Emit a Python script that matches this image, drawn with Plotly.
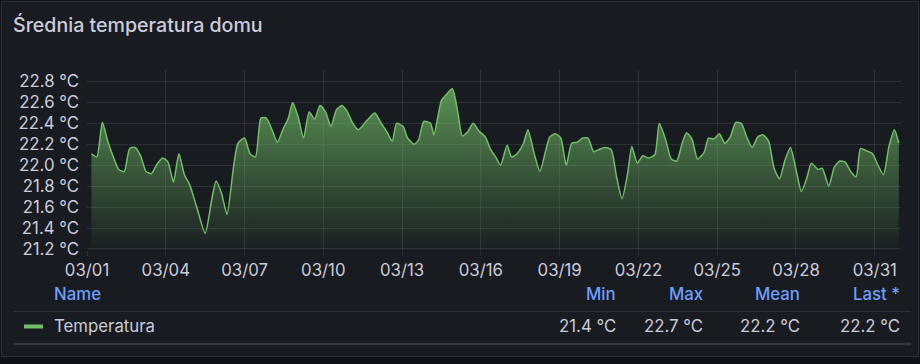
import pandas as pd
import plotly.graph_objects as go

TITLE = "Średnia temperatura domu"
SERIES_NAME = "Temperatura"
START = "2024-03-01 00:00"
END = "2024-04-01 00:00"

hours = [4, 9, 14, 19, 23, 29, 34, 39, 44, 49, 54, 59, 64, 69, 74, 79, 84, 89, 94, 100,
         108, 114, 118, 123, 128, 134, 138, 144, 149, 154, 159, 164, 169, 174, 179,
         184, 188, 193, 198, 203, 208, 213, 218, 223, 228, 233, 238, 243, 248, 256, 263,
         269, 274, 279, 283, 289, 293, 299, 303, 308, 314, 317, 324, 328, 334, 339, 343,
         348, 353, 358,
         364, 369, 374, 378, 384, 388, 393, 399, 403, 409, 414, 419, 423, 428, 433, 438,
         443, 448, 453, 458, 463, 468, 473, 479, 484, 489, 494, 498, 503, 508, 513, 519,
         523, 529, 534, 539, 544,
         548, 553, 558, 564, 568, 573, 578, 583, 588, 593, 598, 603, 608, 613, 618, 623,
         628, 633, 638, 643, 648, 653, 658, 662, 668, 672, 678, 683, 688, 693, 698, 703,
         707, 712, 718, 723, 728, 733, 738, 742]

temps = [22.11, 22.08, 22.41, 22.23, 22.11, 21.96, 21.94, 22.16, 22.17, 22.09, 21.94, 21.92,
         22.01, 22.07, 22.03, 21.84, 22.11, 21.91, 21.81, 21.61, 21.35, 21.67, 21.85, 21.73,
         21.53, 21.99, 22.21, 22.26, 22.11, 22.08, 22.45, 22.45, 22.34, 22.22, 22.34,
         22.45, 22.60, 22.46, 22.26, 22.51, 22.44, 22.57, 22.51, 22.37, 22.53, 22.57, 22.51,
         22.40, 22.34, 22.43, 22.50, 22.40, 22.32, 22.23, 22.40, 22.37, 22.26, 22.20, 22.24,
         22.42, 22.40, 22.29, 22.62, 22.67, 22.73, 22.50, 22.28, 22.32, 22.40, 22.33,
         22.27, 22.15, 22.07, 22.00, 22.19, 22.08, 22.11, 22.21, 22.34, 22.10, 21.94, 22.13,
         22.27, 22.30, 22.26, 22.00, 22.21, 22.22, 22.26, 22.26, 22.13, 22.15, 22.17, 22.15,
         21.89, 21.68, 21.91, 22.18, 22.02, 22.09, 22.07, 22.10, 22.40, 22.24, 22.06, 22.04,
         22.21,
         22.31, 22.25, 22.06, 22.12, 22.26, 22.25, 22.30, 22.21, 22.27, 22.41, 22.40, 22.27,
         22.17, 22.27, 22.29, 22.23, 21.97, 21.87, 22.05, 22.17, 21.96, 21.75, 21.88, 22.02,
         21.96, 21.97, 21.80, 21.98, 22.04, 22.03, 21.94, 21.89, 22.16, 22.14, 22.11, 22.00,
         21.91, 22.18, 22.34, 22.21]

legend_headers = ["Min", "Max", "Mean", "Last *"]

times = pd.Timestamp(START) + pd.to_timedelta(hours, unit="h")
stats = [min(temps), max(temps), sum(temps) / len(temps), temps[-1]]
stat_texts = [f"{v:.1f} °C" for v in stats]

# ---- layout geometry (pixels) ----
W, H = 920, 364
L, R, T, B = 87, 901, 70, 250
Y_RANGE = [21.19, 22.91]

GREEN = "#73bf69"
TEXT = "#ccccdc"
BLUE = "#6e9fff"
GRID = "rgba(204,204,220,0.12)"
PANEL = "#181b1f"
PAGE = "#111217"
FONT = "Inter"
FS = 16.8


def px(x):
    return (x - L) / (R - L)


def py(y):
    return (B - y) / (B - T)


fig = go.Figure()
fig.add_trace(go.Scatter(
    x=times, y=temps, mode="lines", name=SERIES_NAME,
    line=dict(color=GREEN, width=1.5, shape="spline", smoothing=0.6),
    fill="tozeroy",
    fillgradient=dict(type="vertical",
                      colorscale=[[0, "rgba(115,191,105,0.02)"],
                                  [1, "rgba(115,191,105,0.72)"]],
                      start=Y_RANGE[0], stop=max(temps)),
    hoverinfo="skip", showlegend=False,
))

shapes = []
# panel border
shapes.append(dict(type="rect", xref="paper", yref="paper", layer="below",
                   x0=px(1.5), x1=px(918.5), y0=py(1.5), y1=py(356.5),
                   line=dict(color="rgba(204,204,220,0.14)", width=1),
                   fillcolor=PANEL))
# legend table lines
shapes.append(dict(type="line", xref="paper", yref="paper",
                   x0=px(13), x1=px(911), y0=py(311.5), y1=py(311.5),
                   line=dict(color=GRID, width=1)))
shapes.append(dict(type="line", xref="paper", yref="paper",
                   x0=px(13), x1=px(911), y0=py(344), y1=py(344),
                   line=dict(color="rgba(204,204,220,0.16)", width=2)))
# legend marker
shapes.append(dict(type="rect", xref="paper", yref="paper",
                   x0=px(24), x1=px(43), y0=py(324.5), y1=py(328.5),
                   line=dict(width=0), fillcolor=GREEN))

annotations = [
    dict(text=TITLE, x=px(10.5), y=py(25), xanchor="left", yanchor="middle",
         font=dict(family=FONT, size=19.6, color=TEXT, weight=500)),
    dict(text="Name", x=px(52), y=py(294), xanchor="left", yanchor="middle",
         font=dict(family=FONT, size=FS, color=BLUE, weight=500)),
    dict(text=SERIES_NAME, x=px(52), y=py(326), xanchor="left", yanchor="middle",
         font=dict(family=FONT, size=FS, color=TEXT)),
]
col_right = [618, 705, 802, 902]
for hdr, txt, xr in zip(legend_headers, stat_texts, col_right):
    annotations.append(dict(text=hdr, x=px(xr), y=py(294), xanchor="right", yanchor="middle",
                            font=dict(family=FONT, size=FS, color=BLUE, weight=500)))
    annotations.append(dict(text=txt, x=px(xr), y=py(326), xanchor="right", yanchor="middle",
                            font=dict(family=FONT, size=FS, color=TEXT)))
for a in annotations:
    a.update(xref="paper", yref="paper", showarrow=False)

fig.update_layout(
    width=W, height=H,
    margin=dict(l=L, r=W - R, t=T, b=H - B, pad=0),
    paper_bgcolor=PAGE, plot_bgcolor="rgba(0,0,0,0)",
    shapes=shapes, annotations=annotations,
    font=dict(family=FONT, color=TEXT, size=FS),
    showlegend=False,
)
fig.update_xaxes(
    type="date", range=[START, END],
    tickformat="%m/%d", dtick=3 * 86400000, tick0=START,
    showgrid=True, gridcolor=GRID, gridwidth=1,
    ticks="outside", ticklen=5, tickcolor=GRID,
    tickfont=dict(family=FONT, size=FS, color=TEXT),
    showline=False, zeroline=False, fixedrange=True,
)
fig.update_yaxes(
    range=Y_RANGE, dtick=0.2, tick0=21.2, tickformat=".1f", ticksuffix=" °C",
    showgrid=True, gridcolor=GRID, gridwidth=1,
    ticks="", ticklabelstandoff=7,
    tickfont=dict(family=FONT, size=FS, color=TEXT),
    showline=False, zeroline=False, fixedrange=True,
)

fig.write_html("out.html", config={"displayModeBar": False})
